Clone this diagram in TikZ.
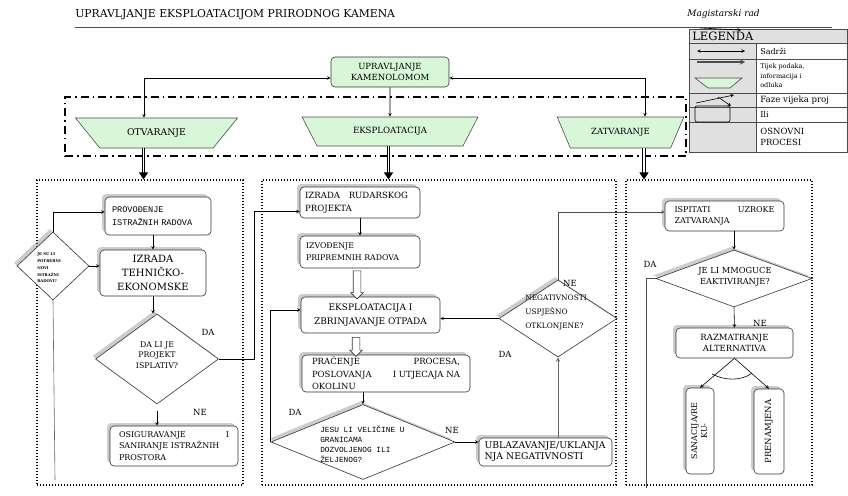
\documentclass[tikz,border=0pt]{standalone}
\usepackage{fontspec}
\setmainfont{DejaVu Serif}
\setmonofont{Liberation Mono}
\usetikzlibrary{shapes.geometric,shapes.arrows,shadows,arrows.meta}
\definecolor{zelena}{RGB}{216,247,216}
\definecolor{siva}{RGB}{224,224,224}
\begin{document}
\begin{tikzpicture}[x=1pt,y=-1pt,>=stealth,line width=.6pt,
		blok/.style={draw=black!80,rounded corners=4pt,fill=white,inner sep=2pt,drop shadow={shadow xshift=-3pt,shadow yshift=3pt,opacity=.4}},
		romb/.style={diamond,draw=black!80,fill=white,inner sep=0pt,drop shadow={shadow xshift=-3pt,shadow yshift=3pt,opacity=.4}},
		faza/.style={trapezium,shape border rotate=180,trapezium stretches=true,draw=black!70,fill=zelena,inner sep=0pt},
		panel/.style={draw,line width=1.1pt,dash pattern=on 1.1pt off 1.9pt,inner sep=0pt},
		dvostr/.style={line width=1pt,double distance=1.6pt,-{Triangle[length=7pt,width=9pt]}},
		suplja/.style={single arrow,draw=black!80,fill=white,shape border rotate=270,single arrow head extend=2.5pt,inner sep=3.5pt},
		oznaka/.style={font=\fontsize{8.5}{10}\selectfont,inner sep=0pt}]
	\useasboundingbox (0,0) rectangle (848,495);
	\node[anchor=west,font=\fontsize{10.8}{12}\selectfont,inner sep=0] (nasl) at (75,15) {UPRAVLJANJE EKSPLOATACIJOM PRIRODNOG KAMENA};
	\node[anchor=east,font=\itshape\fontsize{9}{11}\selectfont,inner sep=0] (mag) at (760,14) {Magistarski rad};
	\draw[black!70] (75,27) -- (832,27);
	% legenda
	\fill[siva] (689,29) rectangle (756,152);
	\fill[siva] (756,29) rectangle (847.5,43);
	\draw[black!70] (689,29) rectangle (847.5,152);
	\foreach \y in {43,59,93,107,122}{
		\draw[black!70] (689,\y) -- (847.5,\y);
	};
	\draw[black!70] (756,43) -- (756,152);
	\draw[->] (700,28) -- (741,30);
	\node[anchor=west,font=\fontsize{11.5}{13}\selectfont,inner sep=0] (leg) at (692,36.5) {LEGENDA};
	\draw[<->] (697,51) -- (745,51);
	\draw[->,black!70,line width=1.2pt] (697,62) -- (745,62);
	\draw[black!70,fill=zelena] (695,78) -- (742,78) -- (730,88) -- (708,88) -- cycle;
	\draw[->] (696,103) -- (734,95);
	\draw[->] (718,97) -- (731,106);
	\draw[rounded corners=2pt] (695,106) rectangle (730,122);
	\node[anchor=west,font=\fontsize{8}{10}\selectfont,inner sep=0] (l1) at (760,51) {Sadrži};
	\node[anchor=west,align=left,font=\fontsize{6.5}{9.5}\selectfont,inner sep=0] (l2) at (760,76) {Tijek podaka,\\informacija i\\odluka};
	\node[anchor=west,font=\fontsize{8.6}{10}\selectfont,inner sep=0] (l3) at (760,100) {Faze vijeka proj};
	\node[anchor=west,font=\fontsize{8}{10}\selectfont,inner sep=0] (l4) at (760,114.5) {Ili};
	\node[anchor=west,align=left,font=\fontsize{8.5}{11}\selectfont,inner sep=0] (l5) at (760,137) {OSNOVNI\\PROCESI};
	% okviri
	\node[draw,line width=1.4pt,dash pattern=on 8pt off 4pt on 1.5pt off 4pt,minimum width=621pt,minimum height=59pt] (osn) at (375.5,126.5) {};
	\node[panel,minimum width=206pt,minimum height=305pt] (lp) at (140,332.5) {};
	\node[panel,minimum width=354pt,minimum height=305pt] (mp) at (439,332.5) {};
	\node[panel,minimum width=186pt,minimum height=305pt] (rp) at (719,332.5) {};
	% gornji dio
	\node[draw=black!80,rounded corners=4pt,fill=zelena,align=center,minimum width=118pt,minimum height=30pt,font=\fontsize{8.5}{10.5}\selectfont] (upr) at (390,72) {UPRAVLJANJE\\KAMENOLOMOM};
	\node[faza,trapezium left angle=35,trapezium right angle=35,minimum width=163pt,minimum height=30pt,font=\fontsize{9.3}{11}\selectfont] (otv) at (156.5,133) {OTVARANJE};
	\node[faza,trapezium left angle=47,trapezium right angle=47,minimum width=176pt,minimum height=29pt,font=\fontsize{8.6}{10}\selectfont] (eks) at (390,131.5) {EKSPLOATACIJA};
	\node[faza,trapezium left angle=46,trapezium right angle=46,minimum width=127pt,minimum height=31pt,font=\fontsize{8.5}{10}\selectfont] (zat) at (620.5,132.5) {ZATVARANJE};
	\draw[<->] ([yshift=-6pt]upr.west) -| ([xshift=-12.5pt]otv.north);
	\draw[<->] ([yshift=-6pt]upr.east) -| ([xshift=24.5pt]zat.north);
	\draw[->] (upr.south) -- (eks.north);
	\draw[dvostr] ([xshift=-13pt]otv.south) -- ([xshift=-13pt]otv.south |- lp.north);
	\draw[dvostr] ([xshift=-1.5pt]eks.south) -- ([xshift=-1.5pt]eks.south |- mp.north);
	\draw[dvostr] ([xshift=23.5pt]zat.south) -- ([xshift=23.5pt]zat.south |- rp.north);
	% otvaranje
	\node[blok,minimum width=106pt,minimum height=38pt,text width=92pt,align=left,font=\ttfamily\fontsize{8.6}{13}\selectfont] (prov) at (158,216) {PROVOĐENJE\\ISTRAŽNIH RADOVA};
	\node[blok,minimum width=106pt,minimum height=46pt,align=center,font=\fontsize{10}{14}\selectfont] (teh) at (153,273) {IZRADA\\TEHNIČKO-\\EKONOMSKE};
	\node[romb,minimum width=72pt,minimum height=68pt] (d1) at (53,266) {};
	\node[anchor=west,align=left,inner sep=0,font=\bfseries\fontsize{3.8}{6.8}\selectfont] (t1) at (37,268) {JE SU LI\\POTREBNI\\NOVI\\ISTRAŽNI\\RADOVI?};
	\node[romb,minimum width=123pt,minimum height=90pt] (d2) at (157,359) {};
	\node[align=center,inner sep=0,font=\fontsize{7.8}{10.5}\selectfont] (t2) at (157,355) {DA LI JE\\PROJEKT\\ISPLATIV?};
	\node[blok,minimum width=128pt,minimum height=40pt,text width=110pt,align=left,font=\fontsize{8}{11.5}\selectfont] (osig) at (174,446) {OSIGURAVANJE\hfill I\\SANIRANJE ISTRAŽNIH\\PROSTORA};
	\node[oznaka] (da1) at (208,332) {DA};
	\node[oznaka] (ne1) at (200,412) {NE};
	\coordinate (k1) at (55,480);
	\draw[->] (teh.north |- prov.south) -- (teh.north);
	\draw[->] (d1.north) |- ([yshift=4pt]prov.west);
	\draw[->] (d1.east) -- (teh.west |- d1.east);
	\draw[black!60] (d1.south) -- (k1);
	\draw[->] (teh.south) -- (teh.south |- d2.north);
	\draw[->,shorten <=7pt] (d2.south) -- (d2.south |- osig.north);
	% eksploatacija
	\node[blok,minimum width=120pt,minimum height=31pt,text width=110pt,align=left,font=\fontsize{8.6}{13}\selectfont] (rud) at (360,202.5) {IZRADA\quad RUDARSKOG\\PROJEKTA};
	\node[blok,minimum width=120pt,minimum height=32pt,text width=108pt,align=left,font=\fontsize{7.8}{12}\selectfont] (izv) at (360,252) {IZVOĐENJE\\PRIPREMNIH RADOVA};
	\node[blok,minimum width=139pt,minimum height=36pt,align=center,font=\fontsize{9}{14}\selectfont] (eksp) at (370.5,315) {EKSPLOATACIJA I\\ZBRINJAVANJE OTPADA};
	\node[blok,minimum width=168pt,minimum height=37pt,text width=148pt,align=left,font=\fontsize{8.5}{12.5}\selectfont] (prac) at (386,373.5) {PRAĆENJE\hfill PROCESA,\\POSLOVANJA\hfill I UTJECAJA NA\\OKOLINU};
	\node[romb,minimum width=184pt,minimum height=75pt] (d3) at (363,442) {};
	\node[anchor=west,align=left,inner sep=0,font=\ttfamily\fontsize{7.8}{10}\selectfont] (t3) at (320,444) {JESU LI VELIČINE U\\GRANICAMA\\DOZVOLJENOG ILI\\ŽELJENOG?};
	\node[blok,minimum width=133pt,minimum height=28pt,text width=122pt,align=left,font=\fontsize{9.3}{11}\selectfont] (ubl) at (545.5,452) {UBLAZAVANJE/UKLANJA\\NJA NEGATIVNOSTI};
	\node[romb,minimum width=118pt,minimum height=77pt] (d4) at (558,318.5) {};
	\node[anchor=west,align=left,inner sep=0,font=\fontsize{7.4}{14}\selectfont] (t4) at (525,313) {NEGATIVNOSTI\\USPJEŠNO\\OTKLONJENE?};
	\node[suplja,minimum height=28pt,minimum width=12pt] (sa1) at (357,283) {};
	\node[suplja,minimum height=19pt,minimum width=12pt] (sa2) at (356,345) {};
	\node[oznaka] (da2) at (295,412) {DA};
	\node[oznaka] (ne2) at (452,430) {NE};
	\node[oznaka] (da3) at (505,354) {DA};
	\node[oznaka] (ne3) at (570,283) {NE};
	\draw[->] (rud) -- (izv);
	\draw[->] (d2.east) -- ++(35,0) |- ([yshift=-9pt]rud.west);
	\draw[->] (d3.north |- prac.south) -- (d3.north);
	\draw[->] (d3.west) |- ([yshift=5pt]eksp.west);
	\draw[->] (d3.east) -- (ubl.west |- d3.east);
	\draw[->,black!60,line width=1pt] (ubl.north -| d4.south) -- (d4.south);
	\draw[->] (d4.west) -- (eksp.east |- d4.west);
	% zatvaranje
	\node[blok,minimum width=119pt,minimum height=30pt,text width=100pt,align=left,font=\fontsize{8}{10.5}\selectfont] (isp) at (724.5,216) {ISPITATI\hfill UZROKE\\ZATVARANJA};
	\node[romb,minimum width=156pt,minimum height=57pt] (d5) at (734,278.5) {};
	\node[align=center,inner sep=0,font=\fontsize{8.3}{11}\selectfont] (t5) at (735,277) {JE LI MMOGUCE\\EAKTIVIRANJE?};
	\node[blok,minimum width=117pt,minimum height=30pt,align=center,font=\fontsize{8.5}{11.5}\selectfont] (razm) at (734.5,343) {RAZMATRANJE\\ALTERNATIVA};
	\node[blok,minimum width=28pt,minimum height=86pt,inner sep=0pt,font=\fontsize{8}{10}\selectfont] (san) at (700,431) {\rotatebox{90}{\begin{tabular}{@{}c@{}}SANACIJA/RE\\KU-\end{tabular}}};
	\node[blok,minimum width=30pt,minimum height=85pt,inner sep=0pt,font=\fontsize{8.5}{10}\selectfont] (pren) at (769,431.5) {\rotatebox{90}{PRENAMJENA}};
	\node[oznaka] (da4) at (650,264) {DA};
	\node[oznaka] (ne4) at (760,323) {NE};
	\coordinate (k2) at (646,488);
	\draw[->,black!70] (d4.north) |- ([yshift=4pt]isp.west);
	\draw[->] (isp.south -| d5.north) -- (d5.north);
	\draw[black!70] (d5.west) -| (k2);
	\draw[->] (d5.south) -- (razm.north);
	\draw[->] (razm.south) -- (san.north);
	\draw[->] (razm.south) -- (pren.north);
	\draw (712,374) .. controls (725,381) and (742,381) .. (752,373);
\end{tikzpicture}
\end{document}
